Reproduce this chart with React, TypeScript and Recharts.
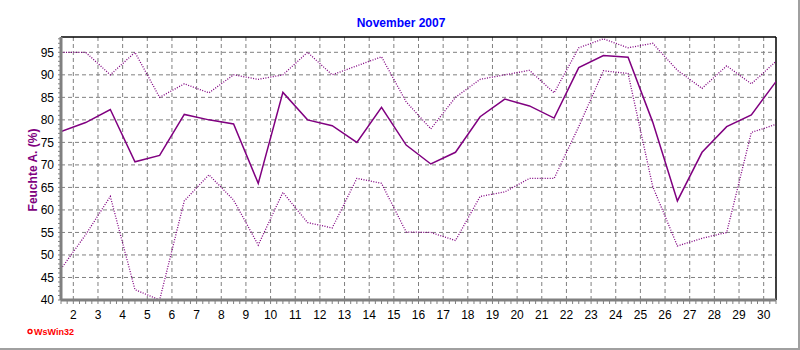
import React from "react";
import {
  LineChart,
  Line,
  XAxis,
  YAxis,
  CartesianGrid,
  ReferenceLine,
} from "recharts";

// November 2007, one value per day (days 1..30)
const days = [
  1, 2, 3, 4, 5, 6, 7, 8, 9, 10, 11, 12, 13, 14, 15, 16, 17, 18, 19, 20, 21,
  22, 23, 24, 25, 26, 27, 28, 29, 30,
];
const maxHum = [
  95, 95, 90, 95, 85, 88, 86, 90, 89, 90, 95, 90, 92, 94, 84, 78, 85, 89, 90,
  91, 86, 96, 98, 96, 97, 91, 87, 92, 88, 93,
];
const meanHum = [
  77.4, 79.4, 82.3, 70.7, 72.1, 81.2, 80, 79.1, 65.9, 86.1, 80, 78.7, 75, 82.8,
  74.4, 70.2, 72.8, 80.7, 84.6, 83.1, 80.4, 91.6, 94.3, 93.9, 79.5, 62, 72.8,
  78.5, 81.1, 88.5,
];
const minHum = [
  46.9, 54.5, 63, 42.3, 40, 62, 67.8, 62.2, 52.2, 63.9, 57.2, 56, 67, 65.9,
  55.1, 55, 53.2, 63, 64, 67, 67, 78.5, 90.9, 90.3, 65.2, 52, 53.7, 55, 77.2,
  79,
];
const dayLabels = [
  2, 3, 4, 5, 6, 7, 8, 9, 10, 11, 12, 13, 14, 15, 16, 17, 18, 19, 20, 21, 22,
  23, 24, 25, 26, 27, 28, 29, 30,
];
const yLabels = [45, 50, 55, 60, 65, 70, 75, 80, 85, 90, 95];

const Y_MIN = 40;
const Y_MAX = 98.4;
const X_MIN = 1.5;
const X_MAX = 30.5;

// each day is drawn half a step right of its label
const data = days.map((d, i) => ({
  pos: d + 0.5,
  max: maxHum[i],
  mean: meanHum[i],
  min: minHum[i],
}));

// minor ticks: every 6 hours on x, every 1 % on y
const xTicks: number[] = [];
for (let q = X_MIN * 4; q <= X_MAX * 4; q++) xTicks.push(q / 4);
const yTicks: number[] = [];
for (let v = Y_MIN; v <= Math.floor(Y_MAX); v++) yTicks.push(v);

const PURPLE = "#800080";
const GRAY = "#808080";
const font = "'Liberation Sans', Arial, sans-serif";

const YTitle = (props: any) => {
  const cx = 33;
  const cy = 170;
  return (
    <text
      x={cx}
      y={cy}
      transform={`rotate(-90 ${cx} ${cy})`}
      textAnchor="middle"
      dominantBaseline="central"
      fill={PURPLE}
      fontSize={12}
      fontWeight="bold"
      fontFamily={font}
    >
      Feuchte A. (%)
    </text>
  );
};

export default function App() {
  return (
    <div
      style={{
        position: "absolute",
        left: 0,
        top: 0,
        width: 798,
        height: 348,
        background: "#fff",
        borderRight: "2px solid #a0a0a0",
        borderBottom: "2px solid #a0a0a0",
        fontFamily: font,
      }}
    >
      <svg
        width={800}
        height={350}
        style={{ position: "absolute", left: 0, top: 0, pointerEvents: "none" }}
      >
        <text
          x={401}
          y={27}
          textAnchor="middle"
          fill="#0000ff"
          fontSize={12}
          fontWeight="bold"
          fontFamily={font}
        >
          November 2007
        </text>
        <circle cx={30} cy={331.5} r={2} fill="none" stroke="#ff0000" strokeWidth={1.4} />
        <text x={34} y={335} fill="#ff0000" fontSize={9} fontWeight="bold" fontFamily={font}>
          WsWin32
        </text>
      </svg>
      <LineChart
        width={798}
        height={348}
        data={data}
        margin={{ top: 37, right: 22, bottom: 18, left: 0 }}
        style={{ position: "absolute", left: 0, top: 0 }}
      >
        <CartesianGrid
          stroke={GRAY}
          strokeDasharray="4 3"
          horizontalValues={yLabels}
          verticalValues={dayLabels}
        />
        <XAxis
          dataKey="pos"
          type="number"
          domain={[X_MIN, X_MAX]}
          ticks={xTicks}
          interval={0}
          allowDataOverflow
          height={30}
          axisLine={{ stroke: GRAY, strokeWidth: 3 }}
          tickLine={{ stroke: GRAY }}
          tickSize={4}
          tickMargin={6}
          tick={{ fill: "#000", fontSize: 12, fontFamily: font }}
          tickFormatter={(v: number) =>
            Math.abs(v - Math.round(v)) < 1e-6 && dayLabels.includes(Math.round(v))
              ? String(Math.round(v))
              : ""
          }
        />
        <YAxis
          type="number"
          domain={[Y_MIN, Y_MAX]}
          ticks={yTicks}
          interval={0}
          allowDataOverflow
          width={61}
          axisLine={{ stroke: GRAY, strokeWidth: 3 }}
          tickLine={{ stroke: GRAY }}
          tickSize={3}
          tickMargin={4}
          tick={{ fill: "#000", fontSize: 12, fontFamily: font }}
          tickFormatter={(v: number) => (v % 5 === 0 ? String(v) : "")}
          label={<YTitle />}
        />
        <ReferenceLine y={Y_MAX} stroke="#000" strokeWidth={1.5} />
        <ReferenceLine x={X_MAX} stroke="#000" strokeWidth={1.5} />
        <Line
          type="linear"
          dataKey="max"
          stroke={PURPLE}
          strokeWidth={1.3}
          strokeDasharray="1 1.5"
          dot={false}
          isAnimationActive={false}
        />
        <Line
          type="linear"
          dataKey="min"
          stroke={PURPLE}
          strokeWidth={1.3}
          strokeDasharray="1 1.5"
          dot={false}
          isAnimationActive={false}
        />
        <Line
          type="linear"
          dataKey="mean"
          stroke={PURPLE}
          strokeWidth={1.5}
          dot={false}
          isAnimationActive={false}
        />
      </LineChart>
    </div>
  );
}
